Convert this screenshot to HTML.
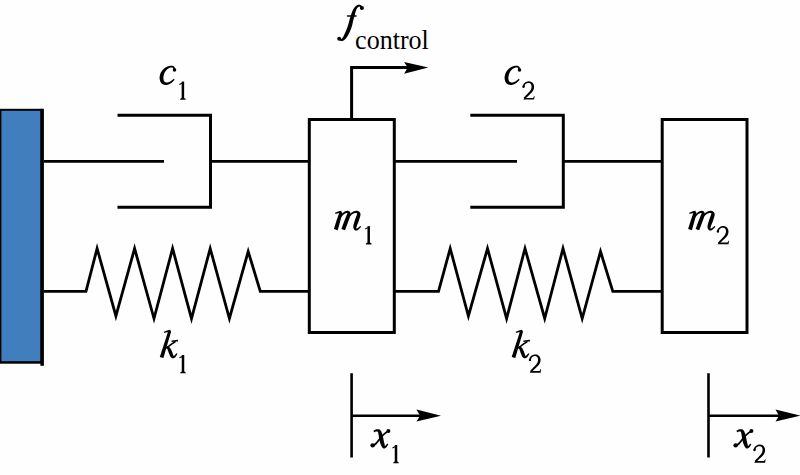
<!DOCTYPE html>
<html><head><meta charset="utf-8">
<style>
html,body{margin:0;padding:0;background:#fefefe;}
svg{display:block;}
text{font-family:"Liberation Serif",serif;fill:#000;}
.i{font-style:italic;font-size:40px;stroke:#000;stroke-width:0.3;}
.s{font-size:26px;}
</style></head>
<body>
<svg width="800" height="475" viewBox="0 0 800 475">
<rect x="0" y="0" width="800" height="475" fill="#fefefe"/>
<rect x="0" y="108.8" width="42" height="254.9" fill="#000"/>
<rect x="1.4" y="110.8" width="39.2" height="250.4" fill="#407ebe"/>
<rect x="40.4" y="108.8" width="3.5" height="257" fill="#000"/>
<g fill="none" stroke="#000" stroke-width="3" stroke-linecap="butt" stroke-linejoin="miter" stroke-miterlimit="10">
<path d="M117.5 115.2 H210.5 V207.3 H117.5"/>
<path d="M44 161.3 H164 M210.5 161.3 H309.3" stroke-width="2.8"/>
<rect x="309.3" y="119.5" width="85" height="213"/>
<path d="M351.6 119.5 V67.5 H408"/>
<path d="M470.3 115.2 H563.3 V207.3 H470.3"/>
<path d="M394.5 161.3 H517 M563.3 161.3 H662.2" stroke-width="2.8"/>
<rect x="662.2" y="119.5" width="84.8" height="213"/>
<path d="M44 291.3 H86 L97.1 248.5 L115.9 316 L134.6 248.5 L154 318.5 L172.6 248.5 L191.5 318.5 L210.2 248.5 L229.4 318.5 L248.2 251.5 L260.3 291.3 H309.3" stroke-width="2.8"/>
<path d="M394.5 291.3 H438.5 L450.2 248.5 L468.4 316 L487.5 248.5 L506.6 318.5 L525 248.5 L544.7 318.5 L563 248.5 L582.2 318.5 L600.5 251.5 L612.8 291.3 H662.2" stroke-width="2.8"/>
<path d="M351.6 373.2 V457.5 M351.6 415.7 H420" stroke-width="2.6"/>
<path d="M708.5 373.2 V457.5 M708.5 415.7 H779" stroke-width="2.6"/>
</g>
<g fill="#000">
<polygon points="404.1,62.1 428.3,67.5 404.1,73.8 407.7,67.5"/>
<polygon points="416.4,409.4 441,415.7 416.4,421.5 420.2,415.7"/>
<polygon points="775.5,409.4 800.5,415.7 775.5,421.5 779,415.7"/>
</g>
<g fill="#000"><polygon points="362.73,7.44 362.57,7.21 362.42,6.96 362.27,6.68 362.09,6.38 361.90,6.08 361.66,5.77 361.37,5.48 361.02,5.23 360.66,5.05 360.29,4.92 359.91,4.82 359.51,4.76 359.10,4.74 358.67,4.76 358.25,4.83 357.83,4.95 357.41,5.10 357.01,5.29 356.62,5.52 356.23,5.79 355.85,6.08 355.48,6.41 355.12,6.76 354.78,7.14 354.44,7.55 354.12,7.98 353.82,8.44 353.53,8.91 353.26,9.40 352.99,9.90 352.74,10.40 352.48,10.91 352.24,11.46 352.00,12.04 351.78,12.63 351.56,13.22 351.35,13.81 351.15,14.38 350.95,14.92 350.76,15.44 350.61,15.95 350.46,16.44 350.32,16.93 350.17,17.41 350.03,17.90 349.88,18.41 349.74,18.95 349.59,19.52 349.42,20.13 349.26,20.76 349.11,21.39 348.96,22.02 348.81,22.64 348.65,23.26 348.48,23.86 348.30,24.45 348.12,25.05 347.93,25.66 347.72,26.27 347.51,26.89 347.29,27.50 347.06,28.12 346.82,28.73 346.57,29.35 346.33,29.98 346.07,30.63 345.79,31.29 345.51,31.95 345.22,32.59 344.93,33.21 344.66,33.79 344.39,34.34 344.16,34.87 343.94,35.37 343.73,35.84 343.53,36.27 343.33,36.66 343.14,37.02 342.96,37.33 342.78,37.61 342.58,37.86 342.37,38.10 342.15,38.32 341.94,38.51 341.73,38.68 341.53,38.81 341.37,38.91 341.26,38.98 341.21,39.01 341.13,39.01 340.99,38.97 340.79,38.88 340.56,38.74 340.30,38.57 340.00,38.39 339.71,38.24 338.89,39.56 339.09,39.72 339.28,39.90 339.50,40.11 339.74,40.34 340.04,40.57 340.40,40.79 340.84,40.96 341.34,41.02 341.81,41.01 342.26,40.94 342.70,40.82 343.14,40.65 343.57,40.44 344.00,40.20 344.41,39.91 344.82,39.59 345.21,39.23 345.59,38.84 345.94,38.43 346.29,37.99 346.62,37.53 346.95,37.06 347.27,36.57 347.61,36.06 347.93,35.49 348.27,34.88 348.60,34.23 348.94,33.57 349.28,32.88 349.61,32.20 349.93,31.52 350.23,30.85 350.49,30.19 350.75,29.53 351.00,28.86 351.24,28.20 351.47,27.54 351.68,26.88 351.89,26.22 352.10,25.55 352.27,24.87 352.44,24.18 352.58,23.51 352.72,22.85 352.84,22.21 352.97,21.60 353.09,21.02 353.21,20.48 353.36,19.96 353.51,19.47 353.65,18.99 353.80,18.53 353.96,18.06 354.11,17.58 354.27,17.09 354.44,16.56 354.57,15.99 354.70,15.40 354.83,14.81 354.96,14.23 355.10,13.66 355.23,13.10 355.37,12.58 355.52,12.09 355.67,11.59 355.82,11.10 355.98,10.63 356.14,10.17 356.31,9.75 356.48,9.35 356.65,8.99 356.82,8.66 357.02,8.36 357.24,8.07 357.47,7.80 357.70,7.55 357.93,7.33 358.16,7.14 358.38,6.98 358.57,6.85 358.76,6.77 358.97,6.71 359.18,6.67 359.41,6.65 359.62,6.66 359.84,6.68 360.03,6.72 360.18,6.77 360.29,6.83 360.41,6.93 360.56,7.08 360.72,7.29 360.89,7.54 361.07,7.81 361.27,8.09 361.47,8.36"/><circle cx="361.90" cy="7.90" r="2.02"/><circle cx="339.20" cy="38.70" r="1.98"/><rect x="346.9" y="15.3" width="9.7" height="1.4"/><polygon points="175.52,69.79 175.40,69.46 175.28,69.11 175.17,68.74 175.04,68.35 174.90,67.96 174.73,67.56 174.52,67.18 174.26,66.82 173.96,66.54 173.65,66.30 173.32,66.11 172.98,65.96 172.62,65.86 172.26,65.79 171.89,65.74 171.51,65.73 171.11,65.72 170.69,65.74 170.25,65.78 169.79,65.85 169.32,65.95 168.84,66.07 168.36,66.23 167.89,66.41 167.41,66.59 166.92,66.81 166.43,67.05 165.93,67.31 165.44,67.61 164.95,67.93 164.48,68.27 164.03,68.62 163.60,69.00 163.19,69.39 162.78,69.80 162.38,70.24 162.00,70.71 161.64,71.21 161.30,71.73 160.98,72.28 160.71,72.86 160.47,73.48 160.25,74.11 160.06,74.76 159.89,75.43 159.75,76.10 159.64,76.77 159.58,77.43 159.59,78.09 159.65,78.75 159.75,79.40 159.87,80.03 160.04,80.64 160.23,81.23 160.46,81.79 160.73,82.33 161.08,82.83 161.48,83.27 161.91,83.64 162.34,83.95 162.78,84.21 163.22,84.42 163.65,84.59 164.08,84.73 164.52,84.85 164.98,84.94 165.44,84.99 165.90,85.00 166.36,84.99 166.82,84.94 167.27,84.86 167.72,84.75 168.17,84.62 168.63,84.46 169.08,84.27 169.53,84.06 169.98,83.82 170.42,83.57 170.86,83.28 171.31,82.97 171.75,82.63 172.19,82.25 172.61,81.85 173.03,81.44 173.44,81.02 173.85,80.60 174.24,80.20 174.64,79.81 173.76,78.79 173.30,79.15 172.85,79.52 172.40,79.89 171.96,80.25 171.52,80.59 171.10,80.91 170.69,81.19 170.29,81.43 169.90,81.63 169.50,81.82 169.10,81.99 168.71,82.13 168.33,82.24 167.96,82.34 167.61,82.40 167.28,82.45 166.95,82.47 166.65,82.47 166.35,82.45 166.07,82.41 165.81,82.35 165.57,82.28 165.34,82.19 165.12,82.07 164.90,81.93 164.67,81.77 164.47,81.60 164.30,81.42 164.15,81.24 164.03,81.05 163.94,80.87 163.87,80.67 163.77,80.41 163.67,80.09 163.58,79.71 163.50,79.30 163.44,78.86 163.41,78.42 163.40,77.98 163.42,77.57 163.43,77.14 163.48,76.67 163.55,76.17 163.64,75.66 163.77,75.15 163.91,74.64 164.06,74.16 164.22,73.72 164.37,73.30 164.54,72.89 164.73,72.48 164.94,72.08 165.17,71.69 165.43,71.31 165.69,70.93 165.97,70.58 166.26,70.23 166.57,69.90 166.91,69.57 167.27,69.25 167.63,68.95 168.00,68.67 168.36,68.41 168.71,68.19 169.06,68.02 169.42,67.88 169.79,67.76 170.16,67.66 170.52,67.58 170.87,67.53 171.19,67.49 171.49,67.47 171.75,67.49 171.99,67.51 172.20,67.56 172.38,67.61 172.54,67.68 172.69,67.76 172.82,67.86 172.94,67.98 173.05,68.12 173.16,68.32 173.27,68.59 173.38,68.91 173.50,69.27 173.61,69.65 173.74,70.04 173.88,70.41"/><circle cx="174.50" cy="69.90" r="1.78"/><polygon points="520.52,69.79 520.40,69.46 520.28,69.11 520.17,68.74 520.04,68.35 519.90,67.96 519.73,67.56 519.52,67.18 519.26,66.82 518.96,66.54 518.65,66.30 518.32,66.11 517.98,65.96 517.62,65.86 517.26,65.79 516.89,65.74 516.51,65.73 516.11,65.72 515.69,65.74 515.25,65.78 514.79,65.85 514.32,65.95 513.84,66.07 513.36,66.23 512.89,66.41 512.41,66.59 511.92,66.81 511.43,67.05 510.93,67.31 510.44,67.61 509.95,67.93 509.48,68.27 509.03,68.62 508.60,69.00 508.19,69.39 507.78,69.80 507.38,70.24 507.00,70.71 506.64,71.21 506.30,71.73 505.98,72.28 505.71,72.86 505.47,73.48 505.25,74.11 505.06,74.76 504.89,75.43 504.75,76.10 504.64,76.77 504.58,77.43 504.59,78.09 504.65,78.75 504.75,79.40 504.87,80.03 505.04,80.64 505.23,81.23 505.46,81.79 505.73,82.33 506.08,82.83 506.48,83.27 506.91,83.64 507.34,83.95 507.78,84.21 508.22,84.42 508.65,84.59 509.08,84.73 509.52,84.85 509.98,84.94 510.44,84.99 510.90,85.00 511.36,84.99 511.82,84.94 512.27,84.86 512.72,84.75 513.17,84.62 513.63,84.46 514.08,84.27 514.53,84.06 514.98,83.82 515.42,83.57 515.86,83.28 516.31,82.97 516.75,82.63 517.19,82.25 517.61,81.85 518.03,81.44 518.44,81.02 518.85,80.60 519.24,80.20 519.64,79.81 518.76,78.79 518.30,79.15 517.85,79.52 517.40,79.89 516.96,80.25 516.52,80.59 516.10,80.91 515.69,81.19 515.29,81.43 514.90,81.63 514.50,81.82 514.10,81.99 513.71,82.13 513.33,82.24 512.96,82.34 512.61,82.40 512.28,82.45 511.95,82.47 511.65,82.47 511.35,82.45 511.07,82.41 510.81,82.35 510.57,82.28 510.34,82.19 510.12,82.07 509.90,81.93 509.67,81.77 509.47,81.60 509.30,81.42 509.15,81.24 509.03,81.05 508.94,80.87 508.87,80.67 508.77,80.41 508.67,80.09 508.58,79.71 508.50,79.30 508.44,78.86 508.41,78.42 508.40,77.98 508.42,77.57 508.43,77.14 508.48,76.67 508.55,76.17 508.64,75.66 508.77,75.15 508.91,74.64 509.06,74.16 509.22,73.72 509.37,73.30 509.54,72.89 509.73,72.48 509.94,72.08 510.17,71.69 510.43,71.31 510.69,70.93 510.97,70.58 511.26,70.23 511.57,69.90 511.91,69.57 512.27,69.25 512.63,68.95 513.00,68.67 513.36,68.41 513.71,68.19 514.06,68.02 514.42,67.88 514.79,67.76 515.16,67.66 515.52,67.58 515.87,67.53 516.19,67.49 516.49,67.47 516.75,67.49 516.99,67.51 517.20,67.56 517.38,67.61 517.54,67.68 517.69,67.76 517.82,67.86 517.94,67.98 518.05,68.12 518.16,68.32 518.27,68.59 518.38,68.91 518.50,69.27 518.61,69.65 518.74,70.04 518.88,70.41"/><circle cx="519.50" cy="69.90" r="1.78"/><polygon points="374.15,432.30 374.51,432.17 374.89,432.02 375.24,431.87 375.58,431.73 375.89,431.62 376.18,431.53 376.42,431.48 376.65,431.46 376.91,431.49 377.19,431.53 377.44,431.58 377.65,431.65 377.82,431.73 377.92,431.82 377.97,431.90 377.99,431.97 378.01,432.07 378.05,432.23 378.11,432.46 378.18,432.76 378.25,433.12 378.32,433.54 378.40,434.00 378.49,434.49 378.59,434.98 378.68,435.52 378.78,436.12 378.87,436.76 378.96,437.43 379.06,438.11 379.16,438.79 379.27,439.43 379.42,440.04 379.56,440.63 379.70,441.23 379.85,441.82 380.01,442.41 380.17,442.99 380.34,443.55 380.52,444.09 380.73,444.59 380.95,445.09 381.17,445.59 381.41,446.08 381.67,446.56 381.94,447.02 382.26,447.46 382.64,447.86 383.08,448.17 383.58,448.38 384.12,448.49 384.64,448.46 385.09,448.31 385.47,448.11 385.78,447.87 386.08,447.58 386.40,447.27 386.71,446.90 386.99,446.50 387.27,446.07 387.54,445.64 387.81,445.21 388.07,444.80 388.33,444.42 387.27,443.58 386.94,443.93 386.61,444.32 386.28,444.70 385.95,445.08 385.65,445.42 385.36,445.70 385.12,445.90 384.92,446.02 384.73,446.05 384.58,446.04 384.52,445.99 384.55,445.91 384.66,445.84 384.80,445.81 384.90,445.78 384.96,445.74 384.96,445.65 384.90,445.45 384.81,445.15 384.71,444.78 384.61,444.35 384.50,443.89 384.39,443.40 384.28,442.91 384.16,442.44 384.03,441.96 383.91,441.44 383.80,440.89 383.68,440.33 383.56,439.75 383.45,439.15 383.33,438.57 383.18,437.99 383.04,437.37 382.90,436.73 382.76,436.06 382.61,435.39 382.45,434.74 382.29,434.10 382.11,433.51 381.92,433.00 381.73,432.53 381.53,432.05 381.31,431.58 381.07,431.12 380.78,430.66 380.44,430.23 380.01,429.83 379.52,429.50 379.00,429.29 378.50,429.17 378.02,429.13 377.57,429.13 377.15,429.18 376.75,429.25 376.35,429.34 375.92,429.44 375.50,429.60 375.11,429.77 374.75,429.97 374.40,430.17 374.07,430.36 373.76,430.53 373.45,430.70"/><polygon points="388.15,430.25 387.84,430.43 387.54,430.60 387.23,430.77 386.92,430.95 386.58,431.15 386.23,431.37 385.86,431.62 385.47,431.90 385.07,432.22 384.66,432.56 384.23,432.92 383.79,433.31 383.34,433.71 382.89,434.14 382.45,434.57 382.01,435.03 381.57,435.49 381.13,435.99 380.69,436.49 380.26,437.01 379.83,437.53 379.40,438.05 378.98,438.57 378.56,439.07 378.13,439.58 377.69,440.11 377.25,440.64 376.82,441.17 376.40,441.67 375.99,442.15 375.60,442.58 375.23,442.96 374.89,443.27 374.55,443.55 374.23,443.79 373.91,444.01 373.58,444.23 373.24,444.46 372.89,444.70 372.53,444.96 373.87,446.64 374.18,446.37 374.48,446.13 374.79,445.87 375.12,445.61 375.46,445.32 375.81,445.01 376.18,444.65 376.57,444.24 376.96,443.79 377.37,443.31 377.78,442.79 378.19,442.26 378.60,441.71 379.02,441.17 379.43,440.64 379.84,440.13 380.26,439.62 380.68,439.10 381.11,438.58 381.53,438.06 381.95,437.56 382.37,437.07 382.78,436.61 383.19,436.17 383.61,435.76 384.04,435.36 384.48,434.97 384.91,434.59 385.34,434.23 385.75,433.90 386.15,433.58 386.53,433.30 386.87,433.05 387.18,432.84 387.49,432.65 387.78,432.47 388.09,432.30 388.40,432.13 388.72,431.95 389.05,431.75"/><circle cx="388.40" cy="430.90" r="1.98"/><circle cx="372.60" cy="445.30" r="2.17"/><polygon points="737.15,432.30 737.51,432.17 737.89,432.02 738.24,431.87 738.58,431.73 738.89,431.62 739.18,431.53 739.42,431.48 739.65,431.46 739.91,431.49 740.19,431.53 740.44,431.58 740.65,431.65 740.82,431.73 740.92,431.82 740.97,431.90 740.99,431.97 741.01,432.07 741.05,432.23 741.11,432.46 741.18,432.76 741.25,433.12 741.32,433.54 741.40,434.00 741.49,434.49 741.59,434.98 741.68,435.52 741.78,436.12 741.87,436.76 741.96,437.43 742.06,438.11 742.16,438.79 742.27,439.43 742.42,440.04 742.56,440.63 742.70,441.23 742.85,441.82 743.01,442.41 743.17,442.99 743.34,443.55 743.52,444.09 743.73,444.59 743.95,445.09 744.17,445.59 744.41,446.08 744.67,446.56 744.94,447.02 745.26,447.46 745.64,447.86 746.08,448.17 746.58,448.38 747.12,448.49 747.64,448.46 748.09,448.31 748.47,448.11 748.78,447.87 749.08,447.58 749.40,447.27 749.71,446.90 749.99,446.50 750.27,446.07 750.54,445.64 750.81,445.21 751.07,444.80 751.33,444.42 750.27,443.58 749.94,443.93 749.61,444.32 749.28,444.70 748.95,445.08 748.65,445.42 748.36,445.70 748.12,445.90 747.92,446.02 747.73,446.05 747.58,446.04 747.52,445.99 747.55,445.91 747.66,445.84 747.80,445.81 747.90,445.78 747.96,445.74 747.96,445.65 747.90,445.45 747.81,445.15 747.71,444.78 747.61,444.35 747.50,443.89 747.39,443.40 747.28,442.91 747.16,442.44 747.03,441.96 746.91,441.44 746.80,440.89 746.68,440.33 746.56,439.75 746.45,439.15 746.33,438.57 746.18,437.99 746.04,437.37 745.90,436.73 745.76,436.06 745.61,435.39 745.45,434.74 745.29,434.10 745.11,433.51 744.92,433.00 744.73,432.53 744.53,432.05 744.31,431.58 744.07,431.12 743.78,430.66 743.44,430.23 743.01,429.83 742.52,429.50 742.00,429.29 741.50,429.17 741.02,429.13 740.57,429.13 740.15,429.18 739.75,429.25 739.35,429.34 738.92,429.44 738.50,429.60 738.11,429.77 737.75,429.97 737.40,430.17 737.07,430.36 736.76,430.53 736.45,430.70"/><polygon points="751.15,430.25 750.84,430.43 750.54,430.60 750.23,430.77 749.92,430.95 749.58,431.15 749.23,431.37 748.86,431.62 748.47,431.90 748.07,432.22 747.66,432.56 747.23,432.92 746.79,433.31 746.34,433.71 745.89,434.14 745.45,434.57 745.01,435.03 744.57,435.49 744.13,435.99 743.69,436.49 743.26,437.01 742.83,437.53 742.40,438.05 741.98,438.57 741.56,439.07 741.13,439.58 740.69,440.11 740.25,440.64 739.82,441.17 739.40,441.67 738.99,442.15 738.60,442.58 738.23,442.96 737.89,443.27 737.55,443.55 737.23,443.79 736.91,444.01 736.58,444.23 736.24,444.46 735.89,444.70 735.53,444.96 736.87,446.64 737.18,446.37 737.48,446.13 737.79,445.87 738.12,445.61 738.46,445.32 738.81,445.01 739.18,444.65 739.57,444.24 739.96,443.79 740.37,443.31 740.78,442.79 741.19,442.26 741.60,441.71 742.02,441.17 742.43,440.64 742.84,440.13 743.26,439.62 743.68,439.10 744.11,438.58 744.53,438.06 744.95,437.56 745.37,437.07 745.78,436.61 746.19,436.17 746.61,435.76 747.04,435.36 747.48,434.97 747.91,434.59 748.34,434.23 748.75,433.90 749.15,433.58 749.53,433.30 749.87,433.05 750.18,432.84 750.49,432.65 750.78,432.47 751.09,432.30 751.40,432.13 751.72,431.95 752.05,431.75"/><circle cx="751.40" cy="430.90" r="1.98"/><circle cx="735.60" cy="445.30" r="2.17"/><polygon points="181.65,81.60 184.15,81.60 184.15,99.00 181.65,99.00"/><polygon points="184.15,81.60 179.20,83.90 179.30,84.90 181.65,84.00"/><polygon points="180.10,99.80 185.70,99.80 185.70,99.00 184.15,98.00 181.65,98.00 180.10,99.00"/><polygon points="367.45,226.20 369.95,226.20 369.95,243.60 367.45,243.60"/><polygon points="369.95,226.20 365.00,228.50 365.10,229.50 367.45,228.60"/><polygon points="365.90,244.40 371.50,244.40 371.50,243.60 369.95,242.60 367.45,242.60 365.90,243.60"/><polygon points="181.75,355.00 184.25,355.00 184.25,372.40 181.75,372.40"/><polygon points="184.25,355.00 179.30,357.30 179.40,358.30 181.75,357.40"/><polygon points="180.20,373.20 185.80,373.20 185.80,372.40 184.25,371.40 181.75,371.40 180.20,372.40"/><polygon points="394.75,445.10 397.25,445.10 397.25,462.50 394.75,462.50"/><polygon points="397.25,445.10 392.30,447.40 392.40,448.40 394.75,447.50"/><polygon points="393.20,463.30 398.80,463.30 398.80,462.50 397.25,461.50 394.75,461.50 393.20,462.50"/><polygon points="524.30,86.99 524.42,86.63 524.54,86.25 524.65,85.89 524.75,85.55 524.85,85.24 524.96,84.96 525.07,84.71 525.20,84.49 525.38,84.30 525.58,84.10 525.81,83.92 526.05,83.75 526.30,83.60 526.56,83.46 526.82,83.33 527.08,83.22 527.33,83.14 527.60,83.07 527.88,83.02 528.15,82.98 528.42,82.96 528.68,82.96 528.93,82.98 529.16,83.01 529.39,83.09 529.62,83.18 529.85,83.29 530.07,83.42 530.28,83.56 530.47,83.71 530.64,83.87 530.78,84.03 530.90,84.20 531.02,84.40 531.14,84.62 531.25,84.86 531.34,85.11 531.41,85.36 531.47,85.61 531.50,85.86 531.54,86.10 531.56,86.36 531.57,86.63 531.56,86.92 531.53,87.21 531.49,87.51 531.43,87.80 531.36,88.09 531.29,88.39 531.21,88.69 531.12,88.98 531.00,89.28 530.87,89.58 530.72,89.89 530.54,90.20 530.34,90.52 530.13,90.84 529.88,91.16 529.61,91.49 529.30,91.84 528.96,92.21 528.59,92.60 528.19,93.03 527.77,93.48 527.31,93.96 526.82,94.48 526.30,95.02 525.76,95.58 525.20,96.15 524.64,96.72 524.09,97.29 523.55,97.85 524.85,99.15 525.41,98.62 525.98,98.07 526.56,97.51 527.13,96.96 527.70,96.42 528.24,95.89 528.76,95.39 529.23,94.92 529.67,94.50 530.09,94.11 530.49,93.74 530.88,93.37 531.24,93.02 531.60,92.65 531.94,92.27 532.26,91.88 532.54,91.48 532.80,91.09 533.03,90.69 533.23,90.30 533.42,89.90 533.58,89.50 533.72,89.11 533.84,88.71 533.92,88.29 533.99,87.87 534.03,87.44 534.06,87.02 534.05,86.59 534.03,86.17 533.98,85.75 533.90,85.34 533.77,84.95 533.62,84.56 533.44,84.19 533.24,83.83 533.02,83.48 532.78,83.16 532.51,82.85 532.22,82.57 531.91,82.33 531.58,82.11 531.24,81.92 530.89,81.76 530.53,81.62 530.17,81.52 529.80,81.44 529.44,81.39 529.07,81.35 528.70,81.34 528.32,81.35 527.95,81.39 527.58,81.46 527.22,81.54 526.87,81.65 526.52,81.78 526.19,81.91 525.85,82.07 525.52,82.26 525.19,82.46 524.87,82.69 524.56,82.94 524.27,83.21 524.00,83.51 523.73,83.84 523.50,84.19 523.30,84.55 523.12,84.91 522.96,85.26 522.81,85.60 522.66,85.91 522.50,86.21"/><circle cx="523.50" cy="86.80" r="1.18"/><polygon points="523.20,99.60 534.10,99.60 534.60,96.00 534.10,96.00 533.10,97.90 524.60,97.90"/><polygon points="718.70,231.69 718.82,231.33 718.94,230.95 719.05,230.59 719.15,230.25 719.25,229.94 719.36,229.66 719.47,229.41 719.60,229.19 719.78,229.00 719.98,228.80 720.21,228.62 720.45,228.45 720.70,228.30 720.96,228.16 721.22,228.03 721.48,227.92 721.73,227.84 722.00,227.77 722.28,227.72 722.55,227.68 722.82,227.66 723.08,227.66 723.33,227.68 723.56,227.71 723.79,227.79 724.02,227.88 724.25,227.99 724.47,228.12 724.68,228.26 724.87,228.41 725.04,228.57 725.18,228.73 725.30,228.90 725.42,229.10 725.54,229.32 725.65,229.56 725.74,229.81 725.81,230.06 725.87,230.31 725.90,230.56 725.94,230.80 725.96,231.06 725.97,231.33 725.96,231.62 725.93,231.91 725.89,232.21 725.83,232.50 725.76,232.79 725.69,233.09 725.61,233.39 725.52,233.68 725.40,233.98 725.27,234.28 725.12,234.59 724.94,234.90 724.74,235.22 724.53,235.54 724.28,235.86 724.01,236.19 723.70,236.54 723.36,236.91 722.99,237.30 722.59,237.73 722.17,238.18 721.71,238.66 721.22,239.18 720.70,239.72 720.16,240.28 719.60,240.85 719.04,241.42 718.49,241.99 717.95,242.55 719.25,243.85 719.81,243.32 720.38,242.77 720.96,242.21 721.53,241.66 722.10,241.12 722.64,240.59 723.16,240.09 723.63,239.62 724.07,239.20 724.49,238.81 724.89,238.44 725.28,238.07 725.64,237.72 726.00,237.35 726.34,236.97 726.66,236.58 726.94,236.18 727.20,235.79 727.43,235.39 727.63,235.00 727.82,234.60 727.98,234.20 728.12,233.81 728.24,233.41 728.32,232.99 728.39,232.57 728.43,232.14 728.46,231.72 728.45,231.29 728.43,230.87 728.38,230.45 728.30,230.04 728.17,229.65 728.02,229.26 727.84,228.89 727.64,228.53 727.42,228.18 727.18,227.86 726.91,227.55 726.62,227.27 726.31,227.03 725.98,226.81 725.64,226.62 725.29,226.46 724.93,226.32 724.57,226.22 724.20,226.14 723.84,226.09 723.47,226.05 723.10,226.04 722.72,226.05 722.35,226.09 721.98,226.16 721.62,226.24 721.27,226.35 720.92,226.48 720.59,226.61 720.25,226.77 719.92,226.96 719.59,227.16 719.27,227.39 718.96,227.64 718.67,227.91 718.40,228.21 718.13,228.54 717.90,228.89 717.70,229.25 717.52,229.61 717.36,229.96 717.21,230.30 717.06,230.61 716.90,230.91"/><circle cx="717.90" cy="231.50" r="1.18"/><polygon points="717.60,244.30 728.50,244.30 729.00,240.70 728.50,240.70 727.50,242.60 719.00,242.60"/><polygon points="530.80,360.09 530.92,359.73 531.04,359.35 531.15,358.99 531.25,358.65 531.35,358.34 531.46,358.06 531.57,357.81 531.70,357.59 531.88,357.40 532.08,357.20 532.31,357.02 532.55,356.85 532.80,356.70 533.06,356.56 533.32,356.43 533.58,356.32 533.83,356.24 534.10,356.17 534.38,356.12 534.65,356.08 534.92,356.06 535.18,356.06 535.43,356.08 535.66,356.11 535.89,356.19 536.12,356.28 536.35,356.39 536.57,356.52 536.78,356.66 536.97,356.81 537.14,356.97 537.28,357.13 537.40,357.30 537.52,357.50 537.64,357.72 537.75,357.96 537.84,358.21 537.91,358.46 537.97,358.71 538.00,358.96 538.04,359.20 538.06,359.46 538.07,359.73 538.06,360.02 538.03,360.31 537.99,360.61 537.93,360.90 537.86,361.19 537.79,361.49 537.71,361.79 537.62,362.08 537.50,362.38 537.37,362.68 537.22,362.99 537.04,363.30 536.84,363.62 536.63,363.94 536.38,364.26 536.11,364.59 535.80,364.94 535.46,365.31 535.09,365.70 534.69,366.13 534.27,366.58 533.81,367.06 533.32,367.58 532.80,368.12 532.26,368.68 531.70,369.25 531.14,369.82 530.59,370.39 530.05,370.95 531.35,372.25 531.91,371.72 532.48,371.17 533.06,370.61 533.63,370.06 534.20,369.52 534.74,368.99 535.26,368.49 535.73,368.02 536.17,367.60 536.59,367.21 536.99,366.84 537.38,366.47 537.74,366.12 538.10,365.75 538.44,365.37 538.76,364.98 539.04,364.58 539.30,364.19 539.53,363.79 539.73,363.40 539.92,363.00 540.08,362.60 540.22,362.21 540.34,361.81 540.42,361.39 540.49,360.97 540.53,360.54 540.56,360.12 540.55,359.69 540.53,359.27 540.48,358.85 540.40,358.44 540.27,358.05 540.12,357.66 539.94,357.29 539.74,356.93 539.52,356.58 539.28,356.26 539.01,355.95 538.72,355.67 538.41,355.43 538.08,355.21 537.74,355.02 537.39,354.86 537.03,354.72 536.67,354.62 536.30,354.54 535.94,354.49 535.57,354.45 535.20,354.44 534.82,354.45 534.45,354.49 534.08,354.56 533.72,354.64 533.37,354.75 533.02,354.88 532.69,355.01 532.35,355.17 532.02,355.36 531.69,355.56 531.37,355.79 531.06,356.04 530.77,356.31 530.50,356.61 530.23,356.94 530.00,357.29 529.80,357.65 529.62,358.01 529.46,358.36 529.31,358.70 529.16,359.01 529.00,359.31"/><circle cx="530.00" cy="359.90" r="1.18"/><polygon points="529.70,372.70 540.60,372.70 541.10,369.10 540.60,369.10 539.60,371.00 531.10,371.00"/><polygon points="755.30,450.19 755.42,449.83 755.54,449.45 755.65,449.09 755.75,448.75 755.85,448.44 755.96,448.16 756.07,447.91 756.20,447.69 756.38,447.50 756.58,447.30 756.81,447.12 757.05,446.95 757.30,446.80 757.56,446.66 757.82,446.53 758.08,446.42 758.33,446.34 758.60,446.27 758.88,446.22 759.15,446.18 759.42,446.16 759.68,446.16 759.93,446.18 760.16,446.21 760.39,446.29 760.62,446.38 760.85,446.49 761.07,446.62 761.28,446.76 761.47,446.91 761.64,447.07 761.78,447.23 761.90,447.40 762.02,447.60 762.14,447.82 762.25,448.06 762.34,448.31 762.41,448.56 762.47,448.81 762.50,449.06 762.54,449.30 762.56,449.56 762.57,449.83 762.56,450.12 762.53,450.41 762.49,450.71 762.43,451.00 762.36,451.29 762.29,451.59 762.21,451.89 762.12,452.18 762.00,452.48 761.87,452.78 761.72,453.09 761.54,453.40 761.34,453.72 761.13,454.04 760.88,454.36 760.61,454.69 760.30,455.04 759.96,455.41 759.59,455.80 759.19,456.23 758.77,456.68 758.31,457.16 757.82,457.68 757.30,458.22 756.76,458.78 756.20,459.35 755.64,459.92 755.09,460.49 754.55,461.05 755.85,462.35 756.41,461.82 756.98,461.27 757.56,460.71 758.13,460.16 758.70,459.62 759.24,459.09 759.76,458.59 760.23,458.12 760.67,457.70 761.09,457.31 761.49,456.94 761.88,456.57 762.24,456.22 762.60,455.85 762.94,455.47 763.26,455.08 763.54,454.68 763.80,454.29 764.03,453.89 764.23,453.50 764.42,453.10 764.58,452.70 764.72,452.31 764.84,451.91 764.92,451.49 764.99,451.07 765.03,450.64 765.06,450.22 765.05,449.79 765.03,449.37 764.98,448.95 764.90,448.54 764.77,448.15 764.62,447.76 764.44,447.39 764.24,447.03 764.02,446.68 763.78,446.36 763.51,446.05 763.22,445.77 762.91,445.53 762.58,445.31 762.24,445.12 761.89,444.96 761.53,444.82 761.17,444.72 760.80,444.64 760.44,444.59 760.07,444.55 759.70,444.54 759.32,444.55 758.95,444.59 758.58,444.66 758.22,444.74 757.87,444.85 757.52,444.98 757.19,445.11 756.85,445.27 756.52,445.46 756.19,445.66 755.87,445.89 755.56,446.14 755.27,446.41 755.00,446.71 754.73,447.04 754.50,447.39 754.30,447.75 754.12,448.11 753.96,448.46 753.81,448.80 753.66,449.11 753.50,449.41"/><circle cx="754.50" cy="450.00" r="1.18"/><polygon points="754.20,462.80 765.10,462.80 765.60,459.20 765.10,459.20 764.10,461.10 755.60,461.10"/><polygon points="339.54,211.76 339.17,212.84 338.81,213.91 338.44,214.99 338.07,216.06 337.70,217.14 337.34,218.21 336.97,219.29 336.60,220.36 336.27,221.45 335.93,222.53 335.59,223.61 335.26,224.70 334.92,225.78 334.58,226.87 334.24,227.95 333.91,229.03 337.69,230.17 338.01,229.07 338.32,227.98 338.63,226.89 338.94,225.80 339.26,224.71 339.57,223.62 339.88,222.53 340.20,221.44 340.48,220.34 340.76,219.24 341.05,218.14 341.33,217.04 341.61,215.94 341.89,214.84 342.18,213.74 342.46,212.64"/><polygon points="335.38,213.90 335.81,213.80 336.24,213.69 336.67,213.59 337.10,213.48 337.51,213.39 337.92,213.30 338.32,213.22 338.70,213.15 339.07,213.11 339.44,213.07 339.80,213.05 340.17,213.03 340.54,213.02 340.91,213.00 341.30,212.98 341.68,212.96 341.32,210.64 340.96,210.73 340.60,210.82 340.24,210.91 339.87,211.00 339.49,211.10 339.10,211.21 338.70,211.32 338.30,211.45 337.88,211.59 337.47,211.73 337.06,211.89 336.64,212.05 336.23,212.22 335.82,212.38 335.42,212.55 335.02,212.70"/><polygon points="339.33,220.13 339.68,219.60 340.04,219.06 340.38,218.51 340.73,217.98 341.07,217.46 341.42,216.96 341.76,216.50 342.10,216.09 342.46,215.69 342.83,215.31 343.20,214.95 343.58,214.62 343.95,214.31 344.32,214.03 344.67,213.78 345.00,213.58 345.32,213.41 345.64,213.28 345.95,213.17 346.25,213.09 346.53,213.03 346.79,213.01 347.00,213.01 347.16,213.02 347.27,213.07 347.36,213.13 347.43,213.20 347.49,213.28 347.53,213.35 347.55,213.42 347.53,213.46 347.52,213.53 347.51,213.63 347.47,213.66 347.40,213.57 347.35,213.49 347.30,213.54 347.20,213.73 347.06,214.07 346.86,214.55 346.63,215.19 346.33,215.98 345.97,216.88 345.58,217.87 345.16,218.90 344.74,219.94 344.33,220.95 343.95,221.91 343.63,222.81 343.31,223.71 342.99,224.59 342.68,225.46 342.37,226.33 342.06,227.20 341.75,228.07 341.44,228.95 344.96,230.25 345.29,229.39 345.63,228.52 345.96,227.66 346.29,226.80 346.63,225.94 346.96,225.06 347.30,224.18 347.65,223.29 347.99,222.35 348.36,221.33 348.74,220.28 349.12,219.23 349.49,218.21 349.83,217.25 350.12,216.39 350.34,215.65 350.47,215.06 350.55,214.57 350.59,214.13 350.60,213.69 350.54,213.24 350.40,212.82 350.25,212.53 350.08,212.27 349.86,211.95 349.56,211.62 349.23,211.35 348.87,211.13 348.49,210.96 348.08,210.84 347.66,210.78 347.24,210.78 346.83,210.81 346.43,210.89 346.03,211.00 345.62,211.14 345.21,211.31 344.80,211.52 344.40,211.75 344.00,212.02 343.61,212.32 343.21,212.64 342.82,212.99 342.42,213.37 342.03,213.78 341.64,214.20 341.26,214.65 340.90,215.11 340.54,215.61 340.19,216.14 339.86,216.69 339.53,217.25 339.22,217.81 338.90,218.38 338.59,218.93 338.27,219.47"/><polygon points="347.00,220.17 347.43,219.62 347.87,219.04 348.30,218.46 348.72,217.90 349.15,217.35 349.56,216.83 349.97,216.35 350.37,215.92 350.77,215.54 351.17,215.17 351.56,214.84 351.94,214.54 352.32,214.27 352.70,214.02 353.07,213.80 353.44,213.61 353.81,213.45 354.19,213.31 354.57,213.20 354.94,213.11 355.29,213.05 355.63,213.02 355.93,213.01 356.17,213.02 356.38,213.08 356.58,213.15 356.78,213.25 356.95,213.36 357.09,213.48 357.20,213.60 357.26,213.69 357.28,213.78 357.28,213.86 357.24,213.90 357.19,213.89 357.13,213.88 357.08,213.94 357.02,214.10 356.93,214.36 356.82,214.71 356.69,215.15 356.51,215.69 356.29,216.33 356.03,217.02 355.75,217.76 355.47,218.51 355.19,219.26 354.93,219.97 354.73,220.67 354.51,221.40 354.28,222.15 354.05,222.91 353.83,223.67 353.63,224.41 353.47,225.12 353.35,225.79 353.31,226.41 353.32,226.97 353.36,227.51 353.46,228.00 353.59,228.46 353.77,228.89 353.99,229.27 354.24,229.61 354.53,229.90 354.86,230.17 355.26,230.38 355.70,230.53 356.17,230.59 356.65,230.55 357.12,230.41 357.57,230.19 358.02,229.90 358.47,229.53 358.92,229.11 359.38,228.66 359.84,228.19 360.30,227.71 360.74,227.26 361.18,226.84 360.42,225.96 359.93,226.34 359.42,226.75 358.91,227.17 358.41,227.58 357.93,227.95 357.49,228.26 357.11,228.49 356.83,228.61 356.62,228.63 356.49,228.60 356.41,228.55 356.39,228.49 356.38,228.44 356.38,228.37 356.37,228.29 356.36,228.19 356.36,228.09 356.36,227.96 356.36,227.81 356.38,227.62 356.41,227.39 356.46,227.11 356.54,226.78 356.65,226.41 356.78,225.97 356.98,225.42 357.22,224.80 357.49,224.12 357.79,223.41 358.09,222.68 358.39,221.94 358.67,221.23 358.89,220.52 359.13,219.79 359.37,219.03 359.62,218.26 359.86,217.51 360.07,216.79 360.25,216.11 360.38,215.49 360.43,214.96 360.45,214.48 360.43,214.02 360.37,213.55 360.23,213.09 360.03,212.67 359.79,212.33 359.52,212.02 359.20,211.71 358.83,211.45 358.44,211.23 358.03,211.05 357.60,210.92 357.15,210.82 356.69,210.77 356.23,210.78 355.77,210.81 355.31,210.89 354.85,211.00 354.39,211.14 353.92,211.31 353.46,211.51 353.00,211.73 352.56,211.99 352.13,212.26 351.70,212.55 351.29,212.87 350.87,213.22 350.46,213.59 350.05,213.99 349.64,214.42 349.23,214.88 348.81,215.38 348.40,215.92 347.99,216.49 347.59,217.08 347.19,217.68 346.79,218.27 346.39,218.86 346.00,219.43"/><polygon points="693.74,211.76 693.37,212.84 693.01,213.91 692.64,214.99 692.27,216.06 691.90,217.14 691.54,218.21 691.17,219.29 690.80,220.36 690.47,221.45 690.13,222.53 689.79,223.61 689.46,224.70 689.12,225.78 688.78,226.87 688.44,227.95 688.11,229.03 691.89,230.17 692.21,229.07 692.52,227.98 692.83,226.89 693.14,225.80 693.46,224.71 693.77,223.62 694.08,222.53 694.40,221.44 694.68,220.34 694.96,219.24 695.25,218.14 695.53,217.04 695.81,215.94 696.09,214.84 696.38,213.74 696.66,212.64"/><polygon points="689.58,213.90 690.01,213.80 690.44,213.69 690.87,213.59 691.30,213.48 691.71,213.39 692.12,213.30 692.52,213.22 692.90,213.15 693.27,213.11 693.64,213.07 694.00,213.05 694.37,213.03 694.74,213.02 695.11,213.00 695.50,212.98 695.88,212.96 695.52,210.64 695.16,210.73 694.80,210.82 694.44,210.91 694.07,211.00 693.69,211.10 693.30,211.21 692.90,211.32 692.50,211.45 692.08,211.59 691.67,211.73 691.26,211.89 690.84,212.05 690.43,212.22 690.02,212.38 689.62,212.55 689.22,212.70"/><polygon points="693.53,220.13 693.88,219.60 694.24,219.06 694.58,218.51 694.93,217.98 695.27,217.46 695.62,216.96 695.96,216.50 696.30,216.09 696.66,215.69 697.03,215.31 697.40,214.95 697.78,214.62 698.15,214.31 698.52,214.03 698.87,213.78 699.20,213.58 699.52,213.41 699.84,213.28 700.15,213.17 700.45,213.09 700.73,213.03 700.99,213.01 701.20,213.01 701.36,213.02 701.47,213.07 701.56,213.13 701.63,213.20 701.69,213.28 701.73,213.35 701.75,213.42 701.73,213.46 701.72,213.53 701.71,213.63 701.67,213.66 701.60,213.57 701.55,213.49 701.50,213.54 701.40,213.73 701.26,214.07 701.06,214.55 700.83,215.19 700.53,215.98 700.17,216.88 699.78,217.87 699.36,218.90 698.94,219.94 698.53,220.95 698.15,221.91 697.83,222.81 697.51,223.71 697.19,224.59 696.88,225.46 696.57,226.33 696.26,227.20 695.95,228.07 695.64,228.95 699.16,230.25 699.49,229.39 699.83,228.52 700.16,227.66 700.49,226.80 700.83,225.94 701.16,225.06 701.50,224.18 701.85,223.29 702.19,222.35 702.56,221.33 702.94,220.28 703.32,219.23 703.69,218.21 704.03,217.25 704.32,216.39 704.54,215.65 704.67,215.06 704.75,214.57 704.79,214.13 704.80,213.69 704.74,213.24 704.60,212.82 704.45,212.53 704.28,212.27 704.06,211.95 703.76,211.62 703.43,211.35 703.07,211.13 702.69,210.96 702.28,210.84 701.86,210.78 701.44,210.78 701.03,210.81 700.63,210.89 700.23,211.00 699.82,211.14 699.41,211.31 699.00,211.52 698.60,211.75 698.20,212.02 697.81,212.32 697.41,212.64 697.02,212.99 696.62,213.37 696.23,213.78 695.84,214.20 695.46,214.65 695.10,215.11 694.74,215.61 694.39,216.14 694.06,216.69 693.73,217.25 693.42,217.81 693.10,218.38 692.79,218.93 692.47,219.47"/><polygon points="701.20,220.17 701.63,219.62 702.07,219.04 702.50,218.46 702.92,217.90 703.35,217.35 703.76,216.83 704.17,216.35 704.57,215.92 704.97,215.54 705.37,215.17 705.76,214.84 706.14,214.54 706.52,214.27 706.90,214.02 707.27,213.80 707.64,213.61 708.01,213.45 708.39,213.31 708.77,213.20 709.14,213.11 709.49,213.05 709.83,213.02 710.13,213.01 710.37,213.02 710.58,213.08 710.78,213.15 710.98,213.25 711.15,213.36 711.29,213.48 711.40,213.60 711.46,213.69 711.48,213.78 711.48,213.86 711.44,213.90 711.39,213.89 711.33,213.88 711.28,213.94 711.22,214.10 711.13,214.36 711.02,214.71 710.89,215.15 710.71,215.69 710.49,216.33 710.23,217.02 709.95,217.76 709.67,218.51 709.39,219.26 709.13,219.97 708.93,220.67 708.71,221.40 708.48,222.15 708.25,222.91 708.03,223.67 707.83,224.41 707.67,225.12 707.55,225.79 707.51,226.41 707.52,226.97 707.56,227.51 707.66,228.00 707.79,228.46 707.97,228.89 708.19,229.27 708.44,229.61 708.73,229.90 709.06,230.17 709.46,230.38 709.90,230.53 710.37,230.59 710.85,230.55 711.32,230.41 711.77,230.19 712.22,229.90 712.67,229.53 713.12,229.11 713.58,228.66 714.04,228.19 714.50,227.71 714.94,227.26 715.38,226.84 714.62,225.96 714.13,226.34 713.62,226.75 713.11,227.17 712.61,227.58 712.13,227.95 711.69,228.26 711.31,228.49 711.03,228.61 710.82,228.63 710.69,228.60 710.61,228.55 710.59,228.49 710.58,228.44 710.58,228.37 710.57,228.29 710.56,228.19 710.56,228.09 710.56,227.96 710.56,227.81 710.58,227.62 710.61,227.39 710.66,227.11 710.74,226.78 710.85,226.41 710.98,225.97 711.18,225.42 711.42,224.80 711.69,224.12 711.99,223.41 712.29,222.68 712.59,221.94 712.87,221.23 713.09,220.52 713.33,219.79 713.57,219.03 713.82,218.26 714.06,217.51 714.27,216.79 714.45,216.11 714.58,215.49 714.63,214.96 714.65,214.48 714.63,214.02 714.57,213.55 714.43,213.09 714.23,212.67 713.99,212.33 713.72,212.02 713.40,211.71 713.03,211.45 712.64,211.23 712.23,211.05 711.80,210.92 711.35,210.82 710.89,210.77 710.43,210.78 709.97,210.81 709.51,210.89 709.05,211.00 708.59,211.14 708.12,211.31 707.66,211.51 707.20,211.73 706.76,211.99 706.33,212.26 705.90,212.55 705.49,212.87 705.07,213.22 704.66,213.59 704.25,213.99 703.84,214.42 703.43,214.88 703.01,215.38 702.60,215.92 702.19,216.49 701.79,217.08 701.39,217.68 700.99,218.27 700.59,218.86 700.20,219.43"/><polygon points="168.39,330.56 167.86,332.20 167.32,333.84 166.78,335.49 166.25,337.13 165.71,338.77 165.17,340.41 164.64,342.06 164.10,343.70 163.56,345.36 163.03,347.01 162.49,348.66 161.95,350.32 161.42,351.98 160.88,353.64 160.34,355.29 159.81,356.95 163.39,358.05 163.88,356.38 164.37,354.71 164.86,353.04 165.35,351.37 165.83,349.70 166.32,348.03 166.81,346.36 167.30,344.70 167.79,343.03 168.28,341.37 168.77,339.72 169.25,338.06 169.74,336.41 170.23,334.75 170.72,333.09 171.21,331.44"/><polygon points="164.17,332.90 164.58,332.81 164.99,332.72 165.40,332.62 165.80,332.53 166.20,332.44 166.60,332.35 166.99,332.27 167.39,332.20 167.78,332.15 168.19,332.10 168.59,332.06 169.00,332.02 169.42,331.98 169.84,331.94 170.26,331.90 170.69,331.86 170.31,329.74 169.91,329.84 169.51,329.94 169.10,330.04 168.68,330.14 168.27,330.25 167.85,330.36 167.43,330.47 167.01,330.60 166.60,330.72 166.19,330.86 165.79,330.99 165.39,331.14 165.00,331.28 164.61,331.42 164.22,331.56 163.83,331.70"/><polygon points="166.68,348.81 167.28,348.34 167.89,347.87 168.49,347.39 169.10,346.92 169.70,346.45 170.29,345.99 170.88,345.55 171.45,345.13 172.02,344.73 172.59,344.35 173.15,343.99 173.71,343.63 174.26,343.27 174.82,342.91 175.39,342.55 175.95,342.19 175.05,340.81 174.49,341.19 173.94,341.55 173.39,341.92 172.83,342.29 172.27,342.66 171.70,343.05 171.13,343.45 170.55,343.87 169.95,344.31 169.35,344.76 168.75,345.22 168.14,345.70 167.53,346.17 166.93,346.65 166.33,347.12 165.72,347.59"/><polygon points="171.58,341.97 172.00,341.93 172.41,341.89 172.83,341.85 173.25,341.81 173.66,341.77 174.07,341.74 174.48,341.70 174.88,341.67 175.28,341.64 175.68,341.61 176.08,341.59 176.48,341.57 176.88,341.54 177.28,341.52 177.68,341.50 178.08,341.47 177.92,339.73 177.52,339.78 177.13,339.83 176.73,339.87 176.33,339.92 175.93,339.97 175.53,340.02 175.13,340.07 174.72,340.13 174.31,340.19 173.89,340.25 173.48,340.31 173.07,340.37 172.65,340.44 172.24,340.50 171.83,340.57 171.42,340.63"/><polygon points="166.13,347.51 166.37,347.84 166.63,348.17 166.87,348.47 167.09,348.75 167.28,349.03 167.44,349.29 167.56,349.56 167.67,349.84 167.82,350.15 167.97,350.52 168.13,350.95 168.29,351.43 168.45,351.93 168.61,352.44 168.78,352.97 168.95,353.46 169.15,353.89 169.34,354.33 169.53,354.79 169.73,355.27 169.94,355.74 170.16,356.21 170.41,356.67 170.71,357.10 171.05,357.45 171.42,357.74 171.81,357.97 172.21,358.14 172.63,358.24 173.03,358.27 173.40,358.24 173.77,358.16 174.15,358.03 174.50,357.84 174.79,357.62 175.05,357.39 175.28,357.14 175.50,356.89 175.70,356.63 175.90,356.37 176.12,356.08 176.33,355.77 176.53,355.45 176.72,355.12 176.91,354.79 177.10,354.46 177.28,354.15 177.47,353.84 176.53,353.16 176.29,353.44 176.05,353.74 175.81,354.03 175.58,354.32 175.35,354.59 175.12,354.83 174.91,355.05 174.70,355.23 174.47,355.40 174.25,355.56 174.03,355.69 173.84,355.80 173.67,355.87 173.54,355.89 173.46,355.88 173.43,355.84 173.39,355.79 173.35,355.74 173.34,355.68 173.35,355.63 173.36,355.58 173.35,355.52 173.33,355.42 173.29,355.30 173.22,355.14 173.12,354.87 173.00,354.52 172.87,354.11 172.73,353.64 172.58,353.15 172.42,352.64 172.25,352.14 172.05,351.70 171.84,351.24 171.63,350.74 171.41,350.22 171.18,349.70 170.92,349.17 170.65,348.65 170.33,348.16 169.94,347.74 169.55,347.38 169.16,347.09 168.78,346.85 168.43,346.64 168.10,346.46 167.79,346.29 167.47,346.09"/><polygon points="520.29,330.56 519.76,332.20 519.22,333.84 518.68,335.49 518.15,337.13 517.61,338.77 517.07,340.41 516.54,342.06 516.00,343.70 515.46,345.36 514.93,347.01 514.39,348.66 513.85,350.32 513.32,351.98 512.78,353.64 512.24,355.29 511.71,356.95 515.29,358.05 515.78,356.38 516.27,354.71 516.76,353.04 517.25,351.37 517.73,349.70 518.22,348.03 518.71,346.36 519.20,344.70 519.69,343.03 520.18,341.37 520.67,339.72 521.15,338.06 521.64,336.41 522.13,334.75 522.62,333.09 523.11,331.44"/><polygon points="516.07,332.90 516.48,332.81 516.89,332.72 517.30,332.62 517.70,332.53 518.10,332.44 518.50,332.35 518.89,332.27 519.29,332.20 519.68,332.15 520.09,332.10 520.49,332.06 520.90,332.02 521.32,331.98 521.74,331.94 522.16,331.90 522.59,331.86 522.21,329.74 521.81,329.84 521.41,329.94 521.00,330.04 520.58,330.14 520.17,330.25 519.75,330.36 519.33,330.47 518.91,330.60 518.50,330.72 518.09,330.86 517.69,330.99 517.29,331.14 516.90,331.28 516.51,331.42 516.12,331.56 515.73,331.70"/><polygon points="518.58,348.81 519.18,348.34 519.79,347.87 520.39,347.39 521.00,346.92 521.60,346.45 522.19,345.99 522.78,345.55 523.35,345.13 523.92,344.73 524.49,344.35 525.05,343.99 525.61,343.63 526.16,343.27 526.72,342.91 527.29,342.55 527.85,342.19 526.95,340.81 526.39,341.19 525.84,341.55 525.29,341.92 524.73,342.29 524.17,342.66 523.60,343.05 523.03,343.45 522.45,343.87 521.85,344.31 521.25,344.76 520.65,345.22 520.04,345.70 519.43,346.17 518.83,346.65 518.23,347.12 517.62,347.59"/><polygon points="523.48,341.97 523.90,341.93 524.31,341.89 524.73,341.85 525.15,341.81 525.56,341.77 525.97,341.74 526.38,341.70 526.78,341.67 527.18,341.64 527.58,341.61 527.98,341.59 528.38,341.57 528.78,341.54 529.18,341.52 529.58,341.50 529.98,341.47 529.82,339.73 529.42,339.78 529.03,339.83 528.63,339.87 528.23,339.92 527.83,339.97 527.43,340.02 527.03,340.07 526.62,340.13 526.21,340.19 525.79,340.25 525.38,340.31 524.97,340.37 524.55,340.44 524.14,340.50 523.73,340.57 523.32,340.63"/><polygon points="518.03,347.51 518.27,347.84 518.53,348.17 518.77,348.47 518.99,348.75 519.18,349.03 519.34,349.29 519.46,349.56 519.57,349.84 519.72,350.15 519.87,350.52 520.03,350.95 520.19,351.43 520.35,351.93 520.51,352.44 520.68,352.97 520.85,353.46 521.05,353.89 521.24,354.33 521.43,354.79 521.63,355.27 521.84,355.74 522.06,356.21 522.31,356.67 522.61,357.10 522.95,357.45 523.32,357.74 523.71,357.97 524.11,358.14 524.53,358.24 524.93,358.27 525.30,358.24 525.67,358.16 526.05,358.03 526.40,357.84 526.69,357.62 526.95,357.39 527.18,357.14 527.40,356.89 527.60,356.63 527.80,356.37 528.02,356.08 528.23,355.77 528.43,355.45 528.62,355.12 528.81,354.79 529.00,354.46 529.18,354.15 529.37,353.84 528.43,353.16 528.19,353.44 527.95,353.74 527.71,354.03 527.48,354.32 527.25,354.59 527.02,354.83 526.81,355.05 526.60,355.23 526.37,355.40 526.15,355.56 525.93,355.69 525.74,355.80 525.57,355.87 525.44,355.89 525.36,355.88 525.33,355.84 525.29,355.79 525.25,355.74 525.24,355.68 525.25,355.63 525.26,355.58 525.25,355.52 525.23,355.42 525.19,355.30 525.12,355.14 525.02,354.87 524.90,354.52 524.77,354.11 524.63,353.64 524.48,353.15 524.32,352.64 524.15,352.14 523.95,351.70 523.74,351.24 523.53,350.74 523.31,350.22 523.08,349.70 522.82,349.17 522.55,348.65 522.23,348.16 521.84,347.74 521.45,347.38 521.06,347.09 520.68,346.85 520.33,346.64 520.00,346.46 519.69,346.29 519.37,346.09"/></g>
<text class="s" transform="matrix(1.0021 0 0 1.0137 355.098 48.747)">control</text>
</svg>
</body></html>
